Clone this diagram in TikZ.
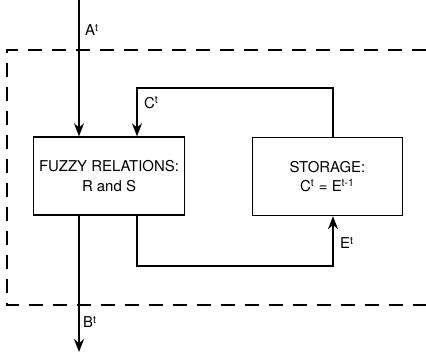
\documentclass[tikz,border=0pt]{standalone}
\usepackage{fontspec}
\setmainfont{TeX Gyre Heros}
\usetikzlibrary{arrows.meta, positioning}

\begin{document}
\begin{tikzpicture}[
    x=0.02cm, y=-0.02cm,
    font=\fontsize{8.5}{11}\selectfont,
    block/.style={
        draw,
        minimum width=3.0cm,
        minimum height=1.56cm,
        align=center,
        line width=0.8pt
    },
    arrow/.style={
        -{Stealth[length=2.6mm, width=2mm]},
        line width=0.8pt
    },
    wire/.style={
        line width=0.8pt
    },
    frame/.style={
        dash pattern=on 0.28cm off 0.2cm,
        line width=0.8pt
    },
    lbl/.style={
        inner sep=1pt
    }
]
\useasboundingbox (0,0) rectangle (426,352);

% blocks
\node[block] (rel) at (109,176) {FUZZY RELATIONS:\\R and S};
\node[block] (store) at (327.5,176.5) {STORAGE:\\C\textsuperscript{t} = E\textsuperscript{t-1}};

% system boundary
\draw[frame] (426,50) -- (7,50) -- (7,305) -- (426,305);

% input and output
\coordinate (in) at (79,0);
\coordinate (out) at (79,352);
\draw[arrow] (in) -- (in |- rel.north);
\draw[arrow] (out |- rel.south) -- (out);
\node[lbl, anchor=west] (a) at (83,30) {A\textsuperscript{t}};
\node[lbl, anchor=west] (b) at (81,322) {B\textsuperscript{t}};

% feedback loop
\coordinate (ctop) at (137,88);
\coordinate (ebot) at (137,266);
\draw[arrow] (store.north -| 333,0) |- (ctop) -- (ctop |- rel.north);
\draw[arrow] (ctop |- rel.south) -- (ebot) -| (store.south -| 333,0);
\node[lbl, anchor=west] (c) at (142,103) {C\textsuperscript{t}};
\node[lbl, anchor=west] (e) at (338,243) {E\textsuperscript{t}};

\end{tikzpicture}
\end{document}
